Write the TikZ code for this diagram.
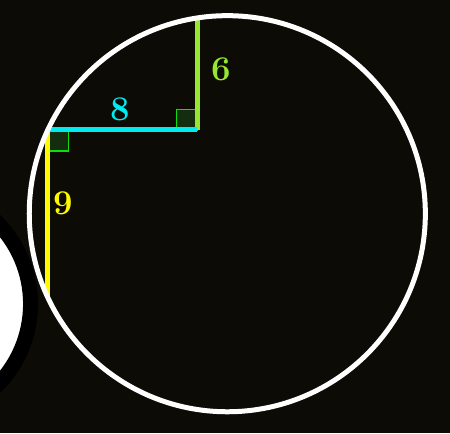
\documentclass[tikz,border=0pt]{standalone}
\usepackage{amsmath,bm}
\usetikzlibrary{positioning}
\definecolor{fondo}{RGB}{13,11,5}
\definecolor{verde}{RGB}{150,230,50}
\definecolor{cian}{RGB}{0,235,240}
\definecolor{amarillo}{RGB}{255,250,0}
\definecolor{marca}{RGB}{10,225,10}
\definecolor{marcafondo}{RGB}{20,45,15}
\tikzstyle{segmento} = [line width=3.75pt]
\tikzstyle{recto} = [draw=marca, fill=marcafondo, line width=1.2pt]
\tikzstyle{etiqueta} = [font=\fontsize{26}{30}\selectfont\bfseries, inner sep=2pt]

\begin{document}
\begin{tikzpicture}[x=13.98pt,y=13.98pt]
					\fill[fondo] (-10.569,-22.264) rectangle (13.573,0.966);
					\useasboundingbox (-10.569,-22.264) rectangle (13.573,0.966);
					\coordinate (A) at (0,0);
					\coordinate (B) at (0,-6);
					\coordinate (C) at (-8,-6);
					\coordinate (D) at (-8,-15);
					\coordinate (O) at (1.625,-10.5);
					% disco cortado por el borde
					\begin{scope}
						\clip (-10.569,-22.264) rectangle (13.573,0.966);
						\draw[black, fill=white, line width=11.25pt] (-15.13,-15.34) circle (6.2);
					\end{scope}
					% angulos rectos
					\draw[recto] (B) rectangle ++(-1.1,1.1);
					\draw[recto] (C) rectangle ++(1.1,-1.15);
					\draw[segmento, verde] (A) -- (B);
					\draw[segmento, amarillo] (C) -- (D);
					\draw[segmento, cian] (C) -- (B);
					\draw[white, line width=3.75pt] (O) circle (10.625);
					\node[etiqueta, text=verde, right=8.8pt] (seis) at (0,-2.763) {6};
					\node[etiqueta, text=cian, above=4.5pt] (ocho) at (-4.13,-6) {8};
					\node[etiqueta, text=amarillo, right=2pt] (nueve) at (-8,-9.93) {9};
\end{tikzpicture}
\end{document}
